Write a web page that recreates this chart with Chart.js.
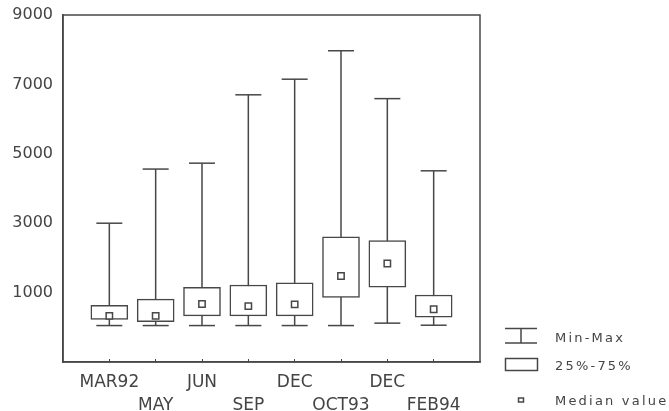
<!DOCTYPE html>
<html><head><meta charset="utf-8">
<script src="https://cdn.jsdelivr.net/npm/chart.js@4"></script>
<style>
html,body{margin:0;padding:0;background:#fff;}
#wrap{position:relative;width:669px;height:411px;overflow:hidden;}
canvas{display:block;}
.lg{position:absolute;font-family:"DejaVu Sans",sans-serif;font-size:13px;color:#444;letter-spacing:2.2px;white-space:nowrap;line-height:14px;}
.sym{position:absolute;}
</style>
</head><body>
<div id="wrap">
<canvas id="c" width="669" height="411"></canvas>
<svg class="sym" style="left:500px;top:320px" width="50" height="90">
  <g stroke="#474747" stroke-width="1.5" fill="#fff">
    <line x1="5" y1="8.5" x2="37" y2="8.5"/>
    <line x1="21" y1="8.5" x2="21" y2="23"/>
    <line x1="5" y1="23" x2="37" y2="23"/>
    <rect x="5.5" y="38.5" width="32" height="12"/>
    <rect x="18.5" y="78" width="5" height="4"/>
  </g>
</svg>
<div class="lg" style="left:555px;top:331px">Min-Max</div>
<div class="lg" style="left:555px;top:359px">25%-75%</div>
<div class="lg" style="left:555px;top:394px">Median value</div>
</div>
<script>
const categories = ['MAR92','MAY','JUN','SEP','DEC','OCT93','DEC','FEB94'];
const minValues    = [50, 50, 50, 50, 50, 50, 120, 60];
const q1Values     = [230, 160, 330, 330, 330, 860, 1160, 290];
const medianValues = [330, 330, 670, 610, 660, 1480, 1840, 520];
const q3Values     = [630, 810, 1150, 1220, 1280, 2610, 2500, 930];
const maxValues    = [3000, 4560, 4730, 6700, 7150, 7970, 6590, 4510];
const yTicks = [1000, 3000, 5000, 7000, 9000];

const ink = '#474747';
const whiskerData = [];
const capData = [];
categories.forEach((c, i) => {
  whiskerData.push({x: i + 1, y: minValues[i]}, {x: i + 1, y: maxValues[i]}, {x: i + 1, y: null});
  capData.push({x: i + 1, y: minValues[i]}, {x: i + 1, y: maxValues[i]});
});
const boxData = categories.map((c, i) => ({x: i + 1, y: [q1Values[i], q3Values[i]]}));
const medData = categories.map((c, i) => ({x: i + 1, y: medianValues[i]}));

const framePlugin = {
  id: 'frame',
  beforeDatasetsDraw(chart) {
    const a = chart.chartArea, ctx = chart.ctx;
    ctx.save();
    ctx.strokeStyle = ink;
    ctx.lineWidth = 1.5;
    ctx.strokeRect(a.left, a.top, a.right - a.left, a.bottom - a.top);
    ctx.restore();
  }
};

new Chart(document.getElementById('c'), {
  type: 'bar',
  data: {
    datasets: [
      {type: 'line', data: whiskerData, borderColor: ink, borderWidth: 1.5, pointRadius: 0, spanGaps: false, order: 3},
      {type: 'scatter', data: capData, pointStyle: 'line', pointRadius: 13, pointBorderColor: ink, pointBorderWidth: 1.5, order: 2},
      {type: 'bar', data: boxData, backgroundColor: '#fff', borderColor: ink, borderWidth: 1.5, borderSkipped: false, barThickness: 37, order: 1},
      {type: 'scatter', data: medData, pointStyle: 'rect', pointRadius: 4.5, pointBackgroundColor: '#fff', pointBorderColor: ink, pointBorderWidth: 1.5, order: 0}
    ]
  },
  options: {
    responsive: false,
    animation: false,
    events: [],
    layout: {padding: {top: 15, right: 189, left: 0, bottom: 0}},
    plugins: {legend: {display: false}, tooltip: {enabled: false}},
    scales: {
      x: {
        type: 'linear', min: 0, max: 9, offset: false,
        afterBuildTicks(scale) { scale.ticks = categories.map((c, i) => ({value: i + 1})); },
        afterFit(scale) { scale.height = 49; },
        grid: {display: true, drawOnChartArea: false, drawTicks: true, tickLength: -3, tickWidth: 1, tickColor: ink, offset: false},
        border: {display: true, color: ink, width: 1.5},
        ticks: {
          autoSkip: false, maxRotation: 0, minRotation: 0, padding: 13,
          color: '#444', font: {family: 'DejaVu Sans', size: 17, lineHeight: 1.3},
          callback(v) {
            const i = Math.round(v) - 1;
            const l = categories[i];
            if (l === undefined) return '';
            return i % 2 === 0 ? [l, ''] : ['', l];
          }
        }
      },
      y: {
        type: 'linear', min: -1000, max: 9000,
        afterBuildTicks(scale) { scale.ticks = yTicks.map(v => ({value: v})); },
        afterFit(scale) { scale.width = 63; },
        grid: {display: false, drawTicks: false},
        border: {display: true, color: ink, width: 1.5},
        ticks: {padding: 10, color: '#444', font: {family: 'DejaVu Sans', size: 16, lineHeight: 0.5}, callback: v => String(v)}
      }
    }
  },
  plugins: [framePlugin]
});
</script>
</body></html>
